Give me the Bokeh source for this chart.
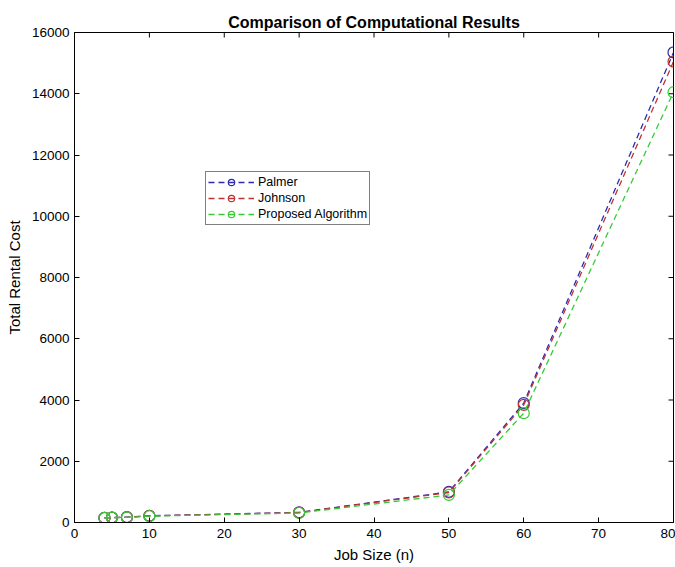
import math
from bokeh.plotting import figure
from bokeh.models import Range1d, Legend, LegendItem, FixedTicker, ColumnDataSource
from bokeh.embed import file_html
from bokeh.resources import INLINE

job_size = [4, 5, 7, 10, 30, 50, 60, 80]
palmer = [150, 160, 175, 220, 330, 1000, 3900, 15350]
johnson = [150, 160, 170, 215, 325, 980, 3840, 15050]
proposed = [150, 160, 165, 205, 310, 900, 3570, 14050]

x_ticks = [0, 10, 20, 30, 40, 50, 60, 70, 80]
y_ticks = [0, 2000, 4000, 6000, 8000, 10000, 12000, 14000, 16000]

series = [
    ("Palmer", palmer, "#2b2bb0"),
    ("Johnson", johnson, "#c03232"),
    ("Proposed Algorithm", proposed, "#33cc33"),
]

X_MIN, X_MAX = 0, 80
Y_MIN, Y_MAX = 0, 16000

FONT = "Liberation Sans"

p = figure(width=675, height=567, output_backend="svg", toolbar_location=None,
           x_range=Range1d(X_MIN, X_MAX), y_range=Range1d(Y_MIN, Y_MAX),
           min_border_left=74, min_border_right=2, min_border_top=32, min_border_bottom=45,
           title="Comparison of Computational Results")
p.title.align = "center"
p.title.text_font = FONT
p.title.text_font_size = "16px"
p.title.text_font_style = "bold"
p.title.text_color = "black"
p.title.offset = 0
p.title.standoff = 3

p.grid.visible = False
p.outline_line_color = "black"
p.outline_line_width = 1
p.background_fill_color = "white"
p.border_fill_color = "white"

for ax in [p.xaxis[0], p.yaxis[0]]:
    ax.major_tick_in = 5
    ax.major_tick_out = 0
    ax.minor_tick_in = 0
    ax.minor_tick_out = 0
    ax.axis_line_color = "black"
    ax.major_tick_line_color = "black"
    ax.major_label_text_font = FONT
    ax.major_label_text_font_size = "13.5px"
    ax.major_label_text_color = "black"
    ax.axis_label_text_font = FONT
    ax.axis_label_text_font_size = "15px"
    ax.axis_label_text_font_style = "normal"
    ax.axis_label_text_color = "black"

p.xaxis.ticker = FixedTicker(ticks=x_ticks)
p.yaxis.ticker = FixedTicker(ticks=y_ticks)
p.xaxis.axis_label = "Job Size (n)"
p.yaxis.axis_label = "Total Rental Cost"
p.xaxis.major_label_standoff = 6
p.xaxis.axis_label_standoff = 5
p.yaxis.major_label_standoff = 5
p.yaxis.axis_label_standoff = 6

# inward ticks on the top and right edges of the box (clipped to the frame)
p.scatter(x=x_ticks, y=[Y_MAX] * len(x_ticks), marker="dash", angle=math.pi / 2,
          size=10, line_color="black", line_width=1)
p.scatter(x=[X_MAX] * len(y_ticks), y=y_ticks, marker="dash",
          size=10, line_color="black", line_width=1)

items = []
for name, vals, color in series:
    src = ColumnDataSource(dict(x=job_size, y=vals))
    ln = p.line("x", "y", source=src, line_color=color, line_width=1.3, line_dash="6 4")
    sc = p.scatter("x", "y", source=src, marker="circle", size=11, fill_color=None,
                   line_color=color, line_width=1.2)
    items.append(LegendItem(label=name, renderers=[ln, sc]))

legend = Legend(items=items, location=(131, 297))
legend.label_text_font = FONT
legend.label_text_font_size = "12.5px"
legend.label_text_color = "black"
legend.border_line_color = "black"
legend.border_line_width = 1
legend.padding = 2
legend.spacing = 0
legend.margin = 0
legend.glyph_width = 46
legend.glyph_height = 16
legend.label_height = 16
legend.label_standoff = 4
legend.background_fill_alpha = 1
p.add_layout(legend, "center")

open("out.html", "w").write(file_html(p, INLINE))
